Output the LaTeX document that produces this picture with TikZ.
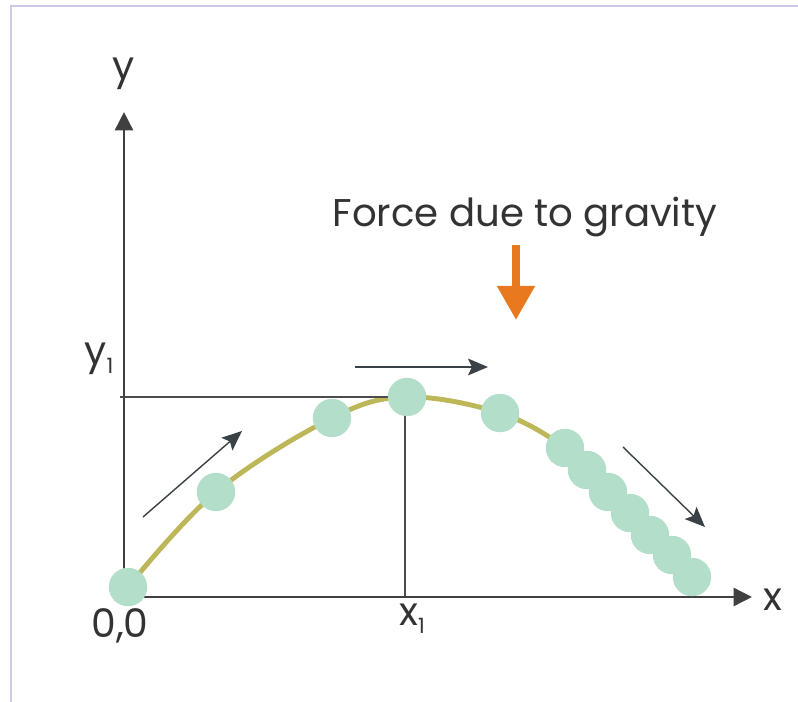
\documentclass[tikz,border=0pt]{standalone}
\usepackage{fontspec}
\setmainfont{Poppins}
\usetikzlibrary{arrows.meta}
\usetikzlibrary{backgrounds}
\usepackage{xcolor}
\definecolor{ballColor}{HTML}{B3DEC9}
\definecolor{pathColor}{HTML}{BDB75A}
\definecolor{forceColor}{HTML}{E8791E}
\definecolor{arrowColor}{HTML}{3A4247}
\definecolor{frameColor}{HTML}{CBCBE8}
\newcommand{\lowone}{\raisebox{-0.4ex}{\fontsize{15}{15}\selectfont 1}}

\begin{document}
\begin{tikzpicture}[
    x=0.025cm, y=-0.025cm,
    ball/.style={circle, fill=ballColor, minimum size=0.96cm, inner sep=0pt},
    lbl/.style={font=\fontsize{28}{30}\selectfont, text=black!80, inner sep=0pt, anchor=base},
    axis/.style={draw=black!75, line width=2pt, -{Triangle[length=0.46cm, width=0.45cm]}},
    guide/.style={draw=black!70, line width=2pt},
    move/.style={draw=arrowColor, line width=1pt, -{Stealth[length=0.5cm, width=0.42cm, inset=0.1cm]}},
    force/.style={draw=forceColor, line width=5.5pt, -{Triangle[length=0.85cm, width=0.9cm]}},
]
\useasboundingbox (0,0) rectangle (798,702);
\draw[frameColor, line width=1.5pt] (11,702) -- (11,6) -- (798,6);

% Axes
\coordinate (O) at (124,597);
\coordinate (Ytip) at (124,112);
\coordinate (Xtip) at (752,597);
\draw[axis] (O) -- (Ytip);
\draw[axis] (O) -- (Xtip);
\node[lbl] (ylab) at (124,80) {y};
\node[lbl] (xlab) at (773,610) {x};
\node[lbl] (origin) at (120,637) {0,0};

% Peak guides
\coordinate (Ystart) at (120,397);
\coordinate (Peak) at (405,397);
\coordinate (Xfoot) at (405,597);
\draw[guide] (Ystart) -- (Peak) -- (Xfoot);
\node[lbl] (y1lab) at (99,365) {y\lowone};
\node[lbl] (x1lab) at (412,625) {x\lowone};

% Balls along the path
\foreach \i/\px/\py in {1/128/587, 2/216/492, 3/332/418, 4/407/397, 5/500/413,
    6/565/448, 7/587/470, 8/608/492, 9/630/513, 10/650/535, 11/672/555, 12/692/577}
    \node[ball] (b\i) at (\px,\py) {};
\begin{scope}[on background layer]
\draw[pathColor, line width=3.5pt] plot[smooth, tension=0.6]
    coordinates {(b1) (b2) (b3) (b4) (b5) (b6) (b8) (b10) (b12)};
\end{scope}

% Motion arrows
\coordinate (m1a) at (143,517);
\coordinate (m1b) at (242,431);
\coordinate (m2a) at (355,367);
\coordinate (m2b) at (488,367);
\coordinate (m3a) at (623,447);
\coordinate (m3b) at (705,527);
\draw[move] (m1a) -- (m1b);
\draw[move] (m2a) -- (m2b);
\draw[move] (m3a) -- (m3b);

% Gravity
\node[lbl, font=\fontsize{27.5}{30}\selectfont] (gravity) at (525,227) {Force due to gravity};
\coordinate (g1) at (516,245);
\coordinate (g2) at (516,320);
\draw[force] (g1) -- (g2);

\end{tikzpicture}
\end{document}
